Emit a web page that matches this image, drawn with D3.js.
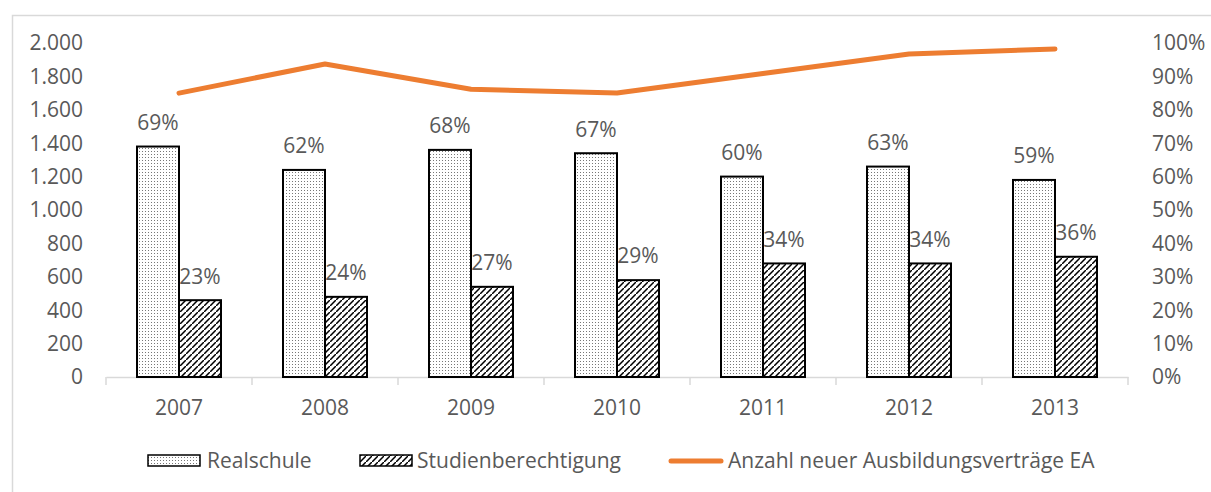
<!DOCTYPE html>
<html>
<head>
<meta charset="utf-8">
<script src="https://cdn.jsdelivr.net/npm/d3@7"></script>
<style>
  html, body { margin: 0; padding: 0; background: #fff; }
  svg { display: block; }
  text { font-family: "Open Sans", "Noto Sans", sans-serif; fill: #595959; }
</style>
</head>
<body>
<svg id="chart" width="1211" height="492"></svg>
<script>
const years = ["2007", "2008", "2009", "2010", "2011", "2012", "2013"];
const realschule = [0.69, 0.62, 0.68, 0.67, 0.60, 0.63, 0.59];
const studienberechtigung = [0.23, 0.24, 0.27, 0.29, 0.34, 0.34, 0.36];
const vertraege = [1700, 1874, 1723, 1700, 1817, 1934, 1964];
const leftTicks = [0, 200, 400, 600, 800, 1000, 1200, 1400, 1600, 1800, 2000];
const rightTicks = [0, 0.1, 0.2, 0.3, 0.4, 0.5, 0.6, 0.7, 0.8, 0.9, 1.0];
const seriesNames = ["Realschule", "Studienberechtigung", "Anzahl neuer Ausbildungsverträge EA"];

const svg = d3.select("#chart");
const FONT = 21;
const lineColor = "#ED7D31";
const gridGray = "#d9d9d9";

// border
svg.append("rect").attr("x", 12.5).attr("y", 15.5).attr("width", 1300).attr("height", 600)
  .attr("fill", "#fff").attr("stroke", gridGray).attr("stroke-width", 1.5);

// patterns
const defs = svg.append("defs");
const dots = defs.append("pattern").attr("id", "dots").attr("patternUnits", "userSpaceOnUse")
  .attr("width", 3).attr("height", 3);
dots.append("rect").attr("width", 3).attr("height", 3).attr("fill", "#fff");
dots.append("rect").attr("x", 1).attr("y", 1).attr("width", 1).attr("height", 1).attr("fill", "#777");
const hatch = defs.append("pattern").attr("id", "hatch").attr("patternUnits", "userSpaceOnUse")
  .attr("width", 6).attr("height", 6);
hatch.append("rect").attr("width", 6).attr("height", 6).attr("fill", "#fff");
hatch.append("path").attr("d", "M-1,7 L7,-1 M-2,1 L1,-2 M5,8 L8,5")
  .attr("stroke", "#000").attr("stroke-width", 1.5);

const x = d3.scaleBand().domain(years).range([106, 1128]).paddingInner(0).paddingOuter(0);
const xs = d3.scaleBand().domain(["r", "s"]).range([0, x.bandwidth()]).paddingInner(0).paddingOuter(31 / 42);
const yL = d3.scaleLinear().domain([0, 2000]).range([377, 43]);
const yR = d3.scaleLinear().domain([0, 1]).range([377, 43]);

const de = d3.formatLocale({ decimal: ",", thousands: ".", grouping: [3], currency: ["", " €"] });
const fmtL = de.format(",");
const fmtP = d3.format(".0%");

// left axis labels
svg.append("g").selectAll("text").data(leftTicks).join("text")
  .attr("x", 83).attr("y", d => yL(d)).attr("dy", "0.35em").attr("text-anchor", "end")
  .style("font-size", FONT + "px").text(d => fmtL(d));

// right axis labels
svg.append("g").selectAll("text").data(rightTicks).join("text")
  .attr("x", 1152).attr("y", d => yR(d)).attr("dy", "0.35em").attr("text-anchor", "start")
  .style("font-size", FONT + "px").text(d => fmtP(d));

// x axis
const xAxis = d3.axisBottom(x).tickSize(0).tickPadding(23);
const gx = svg.append("g").attr("transform", `translate(0,${yL(0)})`).call(xAxis);
gx.select(".domain").attr("stroke", gridGray).attr("stroke-width", 1.5);
gx.selectAll("text").style("font-size", FONT + "px").attr("fill", "#595959")
  .style("font-family", "'Open Sans', sans-serif");
const boundaries = years.map(y => x(y)).concat([x(years[years.length - 1]) + x.bandwidth()]);
svg.append("g").selectAll("line").data(boundaries).join("line")
  .attr("x1", d => d).attr("x2", d => d).attr("y1", yL(0)).attr("y2", yL(0) + 8)
  .attr("stroke", gridGray).attr("stroke-width", 1.5);

// bars
const barData = [];
years.forEach((yr, i) => {
  barData.push({ year: yr, key: "r", v: realschule[i], fill: "url(#dots)" });
  barData.push({ year: yr, key: "s", v: studienberechtigung[i], fill: "url(#hatch)" });
});
svg.append("g").selectAll("rect").data(barData).join("rect")
  .attr("x", d => x(d.year) + xs(d.key))
  .attr("y", d => yR(d.v))
  .attr("width", xs.bandwidth())
  .attr("height", d => yR(0) - yR(d.v))
  .attr("fill", d => d.fill)
  .attr("stroke", "#000").attr("stroke-width", 2);

// bar labels
svg.append("g").selectAll("text").data(barData).join("text")
  .attr("x", d => x(d.year) + xs(d.key) + xs.bandwidth() / 2)
  .attr("y", d => yR(d.v) - 24).attr("dy", "0.35em").attr("text-anchor", "middle")
  .style("font-size", FONT + "px").text(d => fmtP(d.v));

// line
const line = d3.line().x((d, i) => x(years[i]) + x.bandwidth() / 2).y(d => yL(d));
svg.append("path").datum(vertraege).attr("d", line).attr("fill", "none")
  .attr("stroke", lineColor).attr("stroke-width", 5)
  .attr("stroke-linecap", "round").attr("stroke-linejoin", "round");

// legend
const lg = svg.append("g");
const ly = 461;
lg.append("rect").attr("x", 148).attr("y", ly - 6).attr("width", 52).attr("height", 11)
  .attr("fill", "url(#dots)").attr("stroke", "#000").attr("stroke-width", 1.5);
lg.append("text").attr("x", 207).attr("y", ly).attr("dy", "0.35em")
  .style("font-size", FONT + "px").text(seriesNames[0]);
lg.append("rect").attr("x", 360).attr("y", ly - 6).attr("width", 52).attr("height", 11)
  .attr("fill", "url(#hatch)").attr("stroke", "#000").attr("stroke-width", 1.5);
lg.append("text").attr("x", 417).attr("y", ly).attr("dy", "0.35em")
  .style("font-size", FONT + "px").text(seriesNames[1]);
lg.append("line").attr("x1", 671).attr("x2", 721).attr("y1", ly).attr("y2", ly)
  .attr("stroke", lineColor).attr("stroke-width", 5).attr("stroke-linecap", "round");
lg.append("text").attr("x", 728).attr("y", ly).attr("dy", "0.35em")
  .style("font-size", FONT + "px").text(seriesNames[2]);
</script>
</body>
</html>
